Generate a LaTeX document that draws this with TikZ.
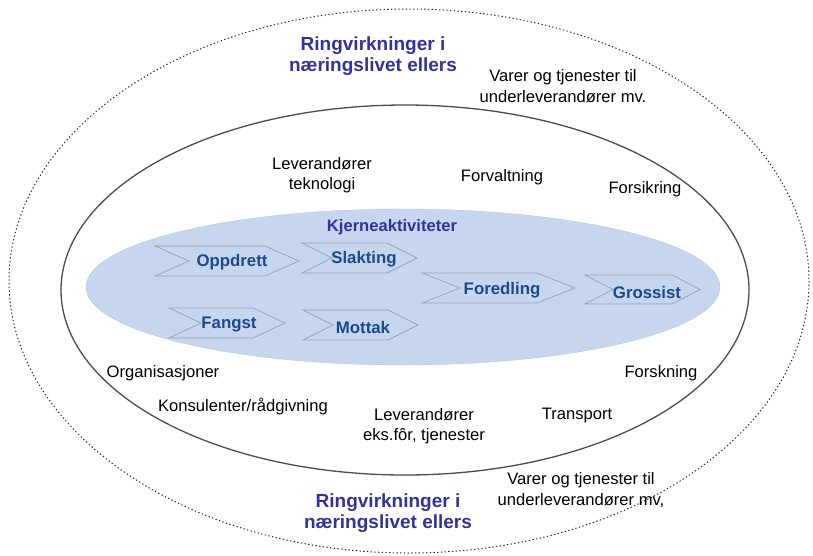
\documentclass[tikz,border=0pt]{standalone}
\usepackage{fontspec}
\setmainfont{Liberation Sans}
\definecolor{titleblue}{RGB}{50,50,155}
\definecolor{chevblue}{RGB}{28,74,138}
\definecolor{corefill}{RGB}{197,214,238}
\definecolor{chevedge}{RGB}{150,162,184}
\tikzset{
  plain/.style={font=\fontsize{16.6}{20.5}\selectfont, align=center, inner sep=0pt, text=black},
  ringtitle/.style={font=\fontsize{19}{21}\selectfont\bfseries, align=center, inner sep=0pt, text=titleblue},
  coretitle/.style={font=\fontsize{16.6}{20}\selectfont\bfseries, inner sep=0pt, text=titleblue},
  chevtext/.style={font=\fontsize{16.8}{20}\selectfont\bfseries, inner sep=0pt, text=chevblue},
  chevline/.style={draw=chevedge, line width=0.7pt, fill=corefill},
  outerring/.style={draw=black!85, line width=1pt, dash pattern=on 1.3pt off 2.4pt},
  innerring/.style={draw=black!70, line width=1.3pt},
  corering/.style={fill=corefill, draw=corefill!90!black, line width=0.3pt}
}
\newcommand\chevbox[8]{% left, tip, top, bottom, depth, name, text x, text y
  \draw[chevline] (#1,#3) -- ({#2-#5},#3) -- (#2,{(#3+#4)/2}) -- ({#2-#5},#4) -- (#1,#4) -- ({#1+#5},{(#3+#4)/2}) -- cycle;
  \node[chevtext] (#6) at (#7,#8) {\chevlabel};}
\begin{document}
\begin{tikzpicture}[x=1pt,y=-1pt]
\useasboundingbox (0,0) rectangle (813,555);
% rings
\draw[outerring] (409,281) ellipse [x radius=400, y radius=272];
\draw[innerring] (405,290) ellipse [x radius=344, y radius=185];
\draw[corering] (403,287) ellipse [x radius=317, y radius=78];
% chevrons
\def\chevlabel{Oppdrett}\chevbox{155}{299}{246}{276}{34}{oppdrett}{232}{262}
\def\chevlabel{Slakting}\chevbox{302}{417}{243}{273}{30}{slakting}{364}{259}
\def\chevlabel{Fangst}\chevbox{169}{285}{308}{338}{32}{fangst}{229}{324}
\def\chevlabel{Mottak}\chevbox{303}{418}{310}{340}{30}{mottak}{363}{327}
\def\chevlabel{Foredling}\chevbox{422}{575}{273}{303}{38}{foredling}{502}{290}
\def\chevlabel{Grossist}\chevbox{585}{700}{275}{304}{28}{grossist}{647}{292}
% texts
\node[coretitle] (kjerne) at (392,227) {Kjerneaktiviteter};
\node[ringtitle] (titletop) at (373,56) {Ringvirkninger i\\næringslivet ellers};
\node[ringtitle] (titlebot) at (388,513) {Ringvirkninger i\\næringslivet ellers};
\node[plain] (varertop) at (563,86) {Varer og tjenester til\\underleverandører mv.};
\node[plain] (varerbot) at (581,490) {Varer og tjenester til\\underleverandører mv,};
\node[plain] (levtek) at (322,175) {Leverandører\\teknologi};
\node[plain] (forvaltning) at (502,177) {Forvaltning};
\node[plain] (forsikring) at (645,189) {Forsikring};
\node[plain] (organisasjoner) at (163,373) {Organisasjoner};
\node[plain] (konsulenter) at (243,407) {Konsulenter/rådgivning};
\node[plain] (leveks) at (424,426) {Leverandører\\eks.fôr, tjenester};
\node[plain] (transport) at (577,416) {Transport};
\node[plain] (forskning) at (661,373) {Forskning};
\end{tikzpicture}
\end{document}
